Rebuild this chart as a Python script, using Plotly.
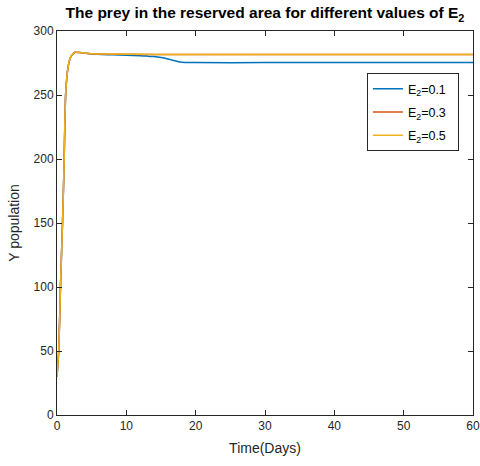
import plotly.graph_objects as go

# Time points (days)
t = [0, 0.25, 0.5, 0.8, 1.0, 1.25, 1.6, 2.0, 2.6, 3.5, 5, 8, 10, 12, 13, 14, 15, 16, 17, 17.7, 18.5, 20, 30, 40, 50, 60]

# Prey population in reserved area for E2 values
y_e01 = [30, 50, 100, 151, 191, 251, 272, 280, 283.4, 283, 282, 281.4, 281.0, 280.7, 280.4, 280.0, 279.3, 278.2, 276.8, 275.8, 275.4, 275.3, 275.3, 275.3, 275.3, 275.3]
y_e03 = [30, 50, 100, 151, 191, 251, 272, 280, 283.4, 283, 282.2, 281.9, 281.8, 281.7, 281.7, 281.6, 281.6, 281.6, 281.6, 281.6, 281.6, 281.6, 281.6, 281.6, 281.6, 281.6]
y_e05 = [30, 50, 100, 151, 191, 251, 272, 280, 283.5, 283.1, 282.3, 282.0, 281.9, 281.8, 281.8, 281.7, 281.7, 281.7, 281.7, 281.7, 281.7, 281.7, 281.7, 281.7, 281.7, 281.7]

names = ["E<sub>2</sub>=0.1", "E<sub>2</sub>=0.3", "E<sub>2</sub>=0.5"]
colors = ["#0072BD", "#D95319", "#EDB120"]

x_ticks = [0, 10, 20, 30, 40, 50, 60]
y_ticks = [0, 50, 100, 150, 200, 250, 300]

fig = go.Figure()
for i, (ys, nm, c) in enumerate(zip([y_e01, y_e03, y_e05], names, colors)):
    fig.add_trace(go.Scatter(x=t, y=ys, mode="lines", name=nm + "\u00a0\u00a0",
                             legendgroup=f"g{i}",
                             line=dict(color=c, width=1.5, shape="spline", smoothing=0.5)))

axis_common = dict(
    showgrid=False, zeroline=False, showline=True, linecolor="#262626", linewidth=1,
    mirror="ticks", ticks="inside", ticklen=5, tickcolor="#262626", automargin=False,
    tickfont=dict(family="Liberation Sans, Arial", size=12, color="#262626"),
)

fig.update_layout(
    width=480, height=466,
    margin=dict(l=57, r=7, t=31, b=51, autoexpand=False),
    paper_bgcolor="white", plot_bgcolor="white",
    font=dict(family="Liberation Sans, Arial", color="#262626"),
    title=dict(text="<b>The prey in the reserved area for different values of E<sub>2</sub></b>",
               x=0.552, xanchor="center", y=0.972, yanchor="middle",
               font=dict(size=15.5, color="black")),
    xaxis=dict(range=[0, 60], tickvals=x_ticks,
               title=dict(text="Time(Days)", font=dict(size=14, color="#262626"), standoff=10),
               **axis_common),
    yaxis=dict(range=[0, 300], tickvals=y_ticks,
               title=dict(text="Y population", font=dict(size=14, color="#262626"), standoff=10),
               **axis_common),
    legend=dict(x=0.745, y=0.89, xanchor="left", yanchor="top",
                bordercolor="#262626", borderwidth=1, bgcolor="white",
                font=dict(size=12.5, color="#000000"), tracegroupgap=4,
                itemwidth=30),
    showlegend=True,
)

fig.write_html("out.html")
